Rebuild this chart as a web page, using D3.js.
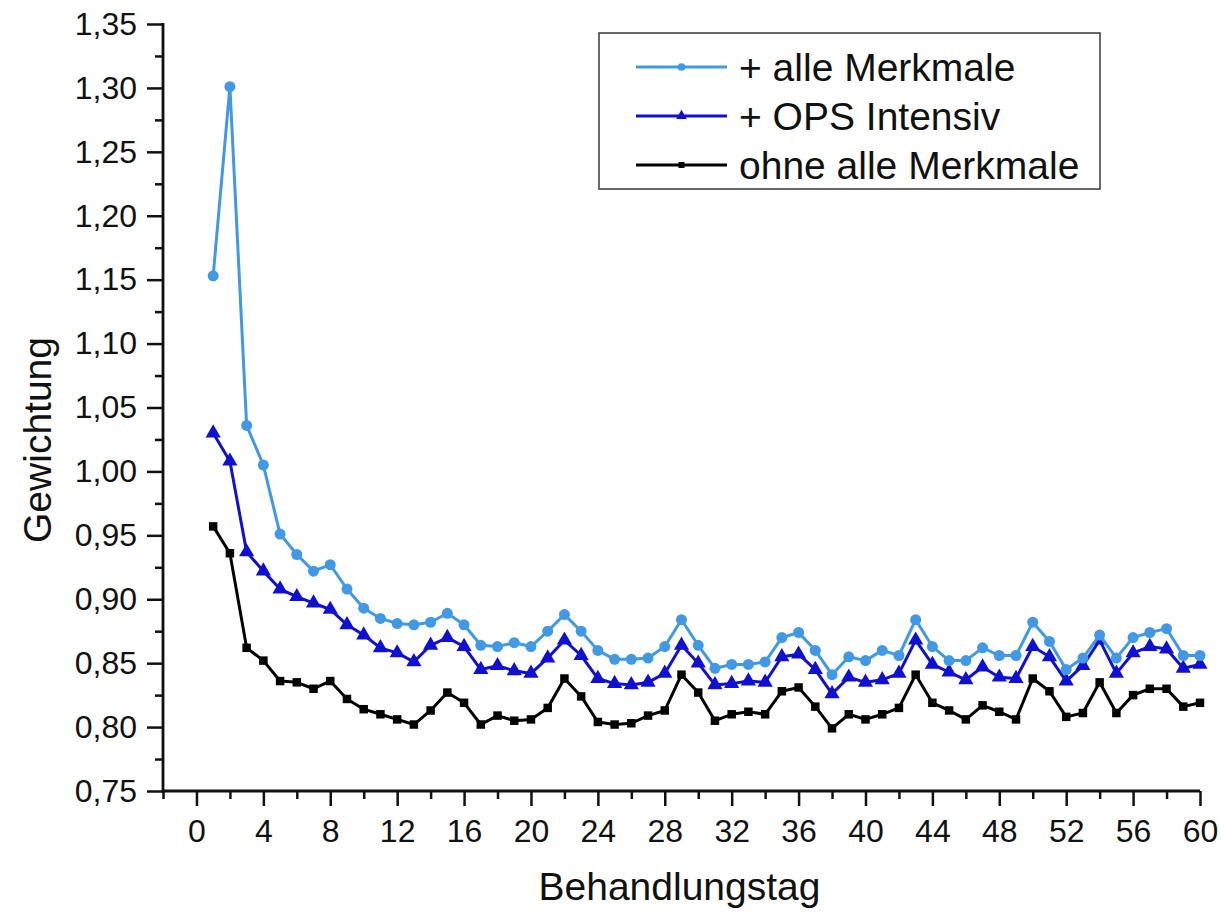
<!DOCTYPE html>
<html>
<head>
<meta charset="utf-8">
<script src="https://cdn.jsdelivr.net/npm/d3@7"></script>
<style>
  html, body { margin: 0; padding: 0; background: #fff; }
  svg { display: block; font-family: "Liberation Sans", Arial, sans-serif; }
</style>
</head>
<body>
<svg id="chart" width="1221" height="912"></svg>
<script>
// ---- data ----
const days = d3.range(1, 61);
const alleMerkmale = [
  1.153, 1.301, 1.036, 1.005, 0.951, 0.935, 0.922, 0.927, 0.908, 0.893,
  0.885, 0.881, 0.880, 0.882, 0.889, 0.880, 0.864, 0.863, 0.866, 0.863,
  0.875, 0.888, 0.875, 0.860, 0.853, 0.853, 0.854, 0.863, 0.884, 0.864,
  0.846, 0.849, 0.849, 0.851, 0.870, 0.874, 0.860, 0.841, 0.855, 0.852,
  0.860, 0.856, 0.884, 0.863, 0.852, 0.852, 0.862, 0.856, 0.856, 0.882,
  0.867, 0.845, 0.854, 0.872, 0.854, 0.870, 0.874, 0.877, 0.856, 0.856
];
const opsIntensiv = [
  1.030, 1.008, 0.937, 0.922, 0.908, 0.902, 0.897, 0.892, 0.880, 0.872,
  0.862, 0.858, 0.851, 0.864, 0.870, 0.863, 0.845, 0.848, 0.844, 0.842,
  0.854, 0.868, 0.856, 0.838, 0.834, 0.833, 0.835, 0.842, 0.864, 0.850,
  0.833, 0.834, 0.836, 0.835, 0.855, 0.857, 0.845, 0.826, 0.839, 0.835,
  0.837, 0.842, 0.868, 0.849, 0.843, 0.837, 0.847, 0.839, 0.838, 0.863,
  0.855, 0.836, 0.848, 0.868, 0.842, 0.858, 0.863, 0.861, 0.846, 0.849
];
const ohneMerkmale = [
  0.957, 0.936, 0.862, 0.852, 0.836, 0.835, 0.830, 0.836, 0.822, 0.814,
  0.810, 0.806, 0.802, 0.813, 0.827, 0.819, 0.802, 0.809, 0.805, 0.806,
  0.815, 0.838, 0.824, 0.804, 0.802, 0.803, 0.809, 0.813, 0.841, 0.827,
  0.805, 0.810, 0.812, 0.810, 0.828, 0.831, 0.816, 0.799, 0.810, 0.806,
  0.810, 0.815, 0.841, 0.819, 0.813, 0.806, 0.817, 0.812, 0.806, 0.838,
  0.828, 0.808, 0.811, 0.835, 0.811, 0.825, 0.830, 0.830, 0.816, 0.819
];
const seriesNames = ["+ alle Merkmale", "+ OPS Intensiv", "ohne alle Merkmale"];
const xMajorTicks = d3.range(0, 61, 4);
const xMinorTicks = d3.range(-2, 61, 2).filter(v => v % 4 !== 0);
const yMajorTicks = [0.75, 0.80, 0.85, 0.90, 0.95, 1.00, 1.05, 1.10, 1.15, 1.20, 1.25, 1.30, 1.35];
const yMinorTicks = d3.range(0, 12).map(i => 0.775 + i * 0.05);
const xTitle = "Behandlungstag";
const yTitle = "Gewichtung";

// ---- layout ----
const svg = d3.select("#chart");
const plotLeft = 163, plotRight = 1200, plotTop = 24, plotBottom = 791;
const x = d3.scaleLinear().domain([-2, 60]).range([plotLeft, plotRight]);
const y = d3.scaleLinear().domain([0.75, 1.35]).range([plotBottom, plotTop]);
const fmt = d3.format(".2f");
const comma = v => fmt(v).replace(".", ",");

const series = [
  { name: seriesNames[0], values: alleMerkmale, color: "#4199e6", shape: "circle" },
  { name: seriesNames[1], values: opsIntensiv, color: "#1010d2", shape: "triangle" },
  { name: seriesNames[2], values: ohneMerkmale, color: "#000000", shape: "square" }
];

// ---- axes ----
const axisColor = "#111";
const gx = svg.append("g").attr("transform", `translate(0,${plotBottom})`);
gx.append("g").call(d3.axisBottom(x).tickValues(xMinorTicks).tickSize(8).tickFormat(""))
  .call(g => g.select(".domain").remove());
gx.append("g").call(d3.axisBottom(x).tickValues(xMajorTicks).tickSize(15).tickPadding(13).tickFormat(d3.format("d")))
  .call(g => g.select(".domain").remove());
gx.selectAll("line").attr("stroke", axisColor).attr("stroke-width", 2.5);
gx.selectAll("text").attr("font-size", 32).attr("fill", "#111").attr("font-family", "Liberation Sans, Arial, sans-serif");
svg.append("line").attr("x1", plotLeft).attr("x2", plotRight).attr("y1", plotBottom).attr("y2", plotBottom)
  .attr("stroke", axisColor).attr("stroke-width", 2.8);

const gy = svg.append("g").attr("transform", `translate(${plotLeft},0)`);
gy.append("g").call(d3.axisLeft(y).tickValues(yMinorTicks).tickSize(8).tickFormat(""))
  .call(g => g.select(".domain").remove());
gy.append("g").call(d3.axisLeft(y).tickValues(yMajorTicks).tickSize(16).tickPadding(10).tickFormat(comma))
  .call(g => g.select(".domain").remove());
gy.selectAll("line").attr("stroke", axisColor).attr("stroke-width", 2.5);
gy.selectAll("text").attr("font-size", 32).attr("fill", "#111").attr("font-family", "Liberation Sans, Arial, sans-serif");
svg.append("line").attr("x1", plotLeft).attr("x2", plotLeft).attr("y1", plotTop - 1).attr("y2", plotBottom + 1.4)
  .attr("stroke", axisColor).attr("stroke-width", 2.8);

// titles
svg.append("text").attr("x", (plotLeft + plotRight) / 2 - 2).attr("y", 900)
  .attr("text-anchor", "middle").attr("font-size", 39).attr("fill", "#111").text(xTitle);
svg.append("text").attr("transform", `translate(51,440) rotate(-90)`)
  .attr("text-anchor", "middle").attr("font-size", 39).attr("fill", "#111").text(yTitle);

// ---- series ----
const line = d3.line().x((d, i) => x(days[i])).y(d => y(d));
const triangle = d3.symbol().type(d3.symbolTriangle);
const squareSym = d3.symbol().type(d3.symbolSquare);

function drawMarker(g, shape, cx, cy, color, scale) {
  if (shape === "circle") {
    g.append("circle").attr("cx", cx).attr("cy", cy).attr("r", 5.5 * scale).attr("fill", color);
  } else if (shape === "triangle") {
    g.append("path").attr("d", triangle.size(100 * scale * scale)()).attr("transform", `translate(${cx},${cy})`).attr("fill", color);
  } else {
    g.append("path").attr("d", squareSym.size(72 * scale * scale)()).attr("transform", `translate(${cx},${cy})`).attr("fill", color);
  }
}

series.slice().reverse().forEach(s => {
  const g = svg.append("g");
  g.append("path").datum(s.values).attr("d", line)
    .attr("fill", "none").attr("stroke", s.color).attr("stroke-width", 3).attr("stroke-linejoin", "round");
  s.values.forEach((v, i) => drawMarker(g, s.shape, x(days[i]), y(v), s.color, 1));
});

// ---- legend ----
const lg = svg.append("g");
lg.append("rect").attr("x", 599).attr("y", 33).attr("width", 501).attr("height", 156)
  .attr("fill", "#fff").attr("stroke", "#444").attr("stroke-width", 1.6);
series.forEach((s, i) => {
  const cy = 67 + i * 49;
  lg.append("line").attr("x1", 636).attr("x2", 727).attr("y1", cy).attr("y2", cy)
    .attr("stroke", s.color).attr("stroke-width", 3);
  drawMarker(lg, s.shape, 681.5, cy, s.color, 0.7);
  lg.append("text").attr("x", 739).attr("y", cy).attr("dy", "0.35em")
    .attr("font-size", 39).attr("fill", "#111").text(s.name);
});
</script>
</body>
</html>
